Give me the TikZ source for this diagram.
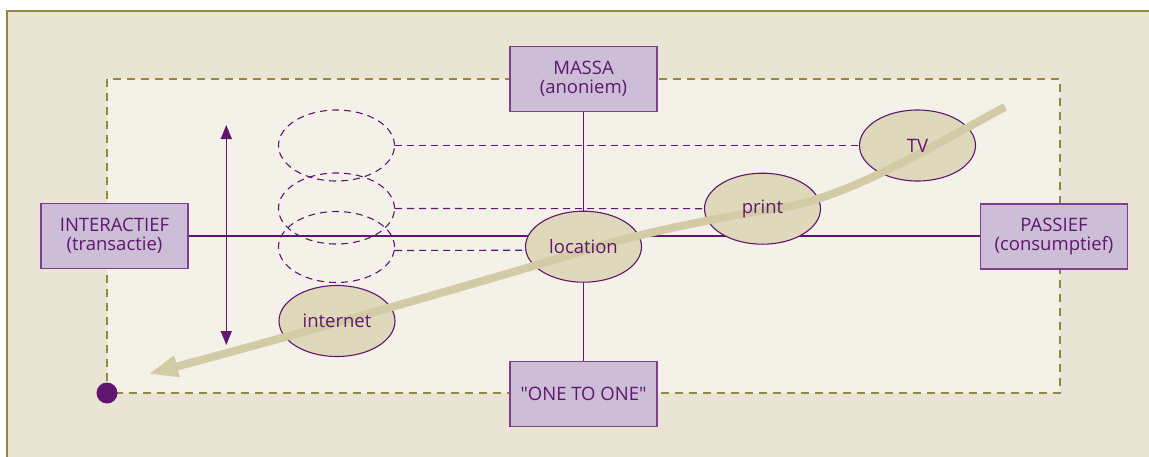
\documentclass[tikz,border=0pt]{standalone}
\usepackage{fontspec}
\setmainfont{Open Sans}[Ligatures=TeXOff]
\usetikzlibrary{arrows.meta,shapes.geometric,calc}
\definecolor{outerbg}{RGB}{234,228,212}
\definecolor{innerbg}{RGB}{244,241,233}
\definecolor{olive}{RGB}{146,136,66}
\definecolor{purp}{RGB}{96,22,110}
\definecolor{boxfill}{RGB}{205,190,216}
\definecolor{boxline}{RGB}{128,62,144}
\definecolor{ellfill}{RGB}{223,217,188}
\definecolor{tan}{RGB}{211,203,165}
\tikzset{
  lbl/.style={text=purp,font=\fontsize{18.5}{19.5}\selectfont,align=center},
  axisbox/.style={lbl,draw=boxline,fill=boxfill,line width=1.1pt,minimum width=147pt,minimum height=65pt,inner sep=0pt},
  mediumell/.style={ellipse,draw=purp,fill=ellfill,line width=1.1pt,minimum width=116pt,minimum height=71pt,inner sep=0pt},
  ghostell/.style={ellipse,draw=purp,dash pattern=on 7pt off 5pt,line width=1.1pt,minimum width=116pt,minimum height=71pt,inner sep=0pt},
  link/.style={draw=purp,line width=1.1pt},
  dlink/.style={draw=purp,line width=1.1pt,dash pattern=on 7pt off 5pt},
}
\begin{document}
\begin{tikzpicture}[x=1pt,y=-1pt]
\useasboundingbox (0,0) rectangle (1149,456);
\clip (0,0) rectangle (1149,456);
\fill[white] (0,0) rectangle (1149,456);
% outer frame
\draw[olive,line width=1.5pt,fill=outerbg] (7,11) rectangle (1170,480);
% inner dashed area
\draw[olive,line width=1.3pt,fill=innerbg,dash pattern=on 8pt off 6pt] (107,79) rectangle (1060,393);
% axis boxes
\node[axisbox] (massa) at (583.5,79) {MASSA\\(anoniem)};
\node[axisbox] (one) at (583.5,394) {"ONE TO ONE"};
\node[axisbox] (inter) at (114.5,236) {INTERACTIEF\\(transactie)};
\node[axisbox] (pass) at (1054,236.5) {PASSIEF\\(consumptief)};
% axes
\draw[link] (inter.east) -- (pass.west |- inter.east);
\draw[link] (massa.south) -- (one.north);
% ghost ellipses
\node[ghostell] (g1) at (336.5,145.5) {};
\node[ghostell] (g2) at (336.5,208.5) {};
\node[ghostell] (g3) at (336.5,247) {};
% media ellipses
\node[mediumell] (tv) at (917.5,145.5) {};
\node[mediumell] (print) at (762.5,208.7) {};
\node[mediumell] (loc) at (583.5,246.7) {};
\node[mediumell] (inet) at (337,321) {};
% dashed links
\draw[dlink] (g1.east) -- (tv.west);
\draw[dlink] (g2.east) -- (print.west);
\draw[dlink] ($(g3.east)+(0,3.5)$) -- ($(loc.west)+(0,3.5)$);
% vertical double arrow
\coordinate (vt) at (226.3,125);
\coordinate (vb) at (226.3,345);
\draw[purp,line width=1.2pt,{Triangle[length=14pt,width=11pt]}-{Triangle[length=14pt,width=11pt]}] (vt) -- (vb);
% corner dot
\node[circle,fill=purp,minimum size=21pt,inner sep=0pt] (dot) at (107,393) {};
% tan trajectory
\coordinate (cs) at (1005,107);
\coordinate (ce) at (148,374);
\draw[tan,line width=8pt,-{Triangle[length=30pt,width=20pt]}]
  (cs) .. controls (930,147) and (850,197) .. (780,208)
       .. controls (720,217) and (640,233) .. (583,251)
       .. controls (526,269) and (300,334) .. (ce);
% labels
\node[lbl] at (tv) {TV};
\node[lbl] at (print) {print};
\node[lbl] at (loc) {location};
\node[lbl] at (inet) {internet};
\end{tikzpicture}
\end{document}
